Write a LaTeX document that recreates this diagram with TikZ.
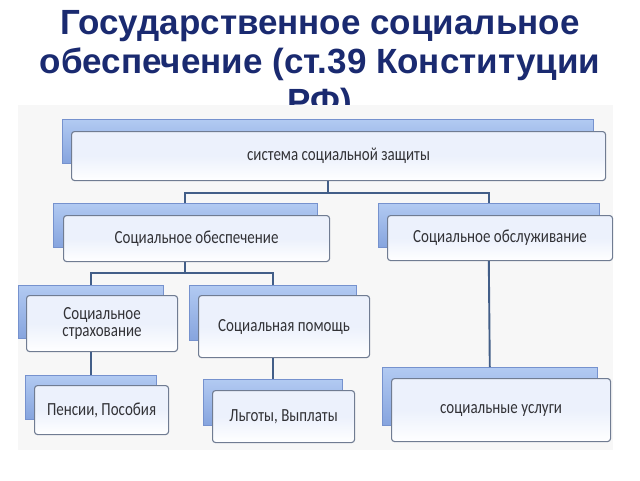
\documentclass[tikz,border=0pt]{standalone}
\usepackage{fontspec}
\setmainfont{Carlito}
\newfontfamily\titlefont{Liberation Sans}
\newfontfamily\diagfont[FakeStretch=0.81]{Carlito}
\usetikzlibrary{calc}
\definecolor{titleblue}{RGB}{26,42,112}
\definecolor{bgc}{RGB}{247,247,247}
\definecolor{backtop}{RGB}{178,202,242}
\definecolor{backbot}{RGB}{134,164,222}
\definecolor{backline}{RGB}{118,146,206}
\definecolor{fronttop}{RGB}{236,241,252}
\definecolor{frontline}{RGB}{112,124,146}
\definecolor{connc}{RGB}{66,94,136}
\definecolor{txt}{RGB}{50,50,54}
\begin{document}
\begin{tikzpicture}[x=1pt,y=-1pt,
  titletext/.style={font=\titlefont\bfseries\fontsize{35}{37}\selectfont, text=titleblue, anchor=base, inner sep=0pt},
  backbox/.style={anchor=north west, inner sep=0pt, draw=backline, line width=0.6pt, top color=backtop, bottom color=backbot},
  frontbox/.style={anchor=north west, inner sep=0pt, draw=frontline, line width=1.1pt, rounded corners=3pt, top color=fronttop, bottom color=white, middle color=fronttop},
  label/.style={font=\diagfont\fontsize{18.5}{17.5}\selectfont, text=txt, align=center, inner sep=0pt},
  conn/.style={draw=connc, line width=1.9pt}
]
\useasboundingbox (0,0) rectangle (640,480);
% title
\node[titletext] (t1) at (320,34) {Государственное социальное};
\node[titletext] (t2) at (320,73.5) {обеспечение (ст.39 Конституции};
\node[titletext] (t3) at (320,113) {РФ)};
% background panel
\fill[bgc] (18,105) rectangle (613,450);

% boxes: back then front
\node[backbox, minimum width=531pt, minimum height=44pt] (topb) at (62,119) {};
\node[frontbox, minimum width=534pt, minimum height=49pt] (top) at (71,131) {};
\node[label] at (top.center) {система социальной защиты};

\node[backbox, minimum width=264pt, minimum height=44pt] (obespb) at (53,203) {};
\node[frontbox, minimum width=266pt, minimum height=46pt] (obesp) at (63,215) {};
\node[label] at (obesp.center) {Социальное обеспечение};

\node[backbox, minimum width=221pt, minimum height=44pt] (obslb) at (378,203) {};
\node[frontbox, minimum width=225pt, minimum height=45pt] (obsl) at (387,215) {};
\node[label] at (obsl.center) {Социальное обслуживание};

\node[backbox, minimum width=145pt, minimum height=53pt] (strb) at (18,285) {};
\node[frontbox, minimum width=151pt, minimum height=56pt] (str) at (26,295) {};
\node[label] at (str.center) {Социальное\\страхование};

\node[backbox, minimum width=167pt, minimum height=55pt] (pomb) at (189,285) {};
\node[frontbox, minimum width=171pt, minimum height=62pt] (pom) at (198,295) {};
\node[label] at (pom.center) {Социальная помощь};

\node[backbox, minimum width=131pt, minimum height=44pt] (penb) at (25,375) {};
\node[frontbox, minimum width=134pt, minimum height=49pt] (pen) at (34,385) {};
\node[label] at (pen.center) {Пенсии, Пособия};

\node[backbox, minimum width=139pt, minimum height=46pt] (lgb) at (203,379) {};
\node[frontbox, minimum width=142pt, minimum height=52pt] (lg) at (212,390) {};
\node[label] at (lg.center) {Льготы, Выплаты};

\node[backbox, minimum width=215pt, minimum height=58pt] (uslb) at (382,367) {};
\node[frontbox, minimum width=219pt, minimum height=63pt] (usl) at (391,378) {};
\node[label] at (usl.center) {социальные услуги};

% connectors
\draw[conn] (topb.center |- top.south) -- ++(0,12) -| (obespb.north);
\draw[conn] (topb.center |- top.south) -- ++(0,12) -| (obslb.north);
\draw[conn] (obespb.center |- obesp.south) -- ++(0,11) -| (strb.north);
\draw[conn] (obespb.center |- obesp.south) -- ++(0,11) -| (pomb.north);
\draw[conn] (strb.center |- str.south) -- (penb.north);
\draw[conn] (pomb.center |- pom.south) -- (lgb.north);
\draw[conn] (obslb.center |- obsl.south) -- (uslb.north);
\end{tikzpicture}
\end{document}
